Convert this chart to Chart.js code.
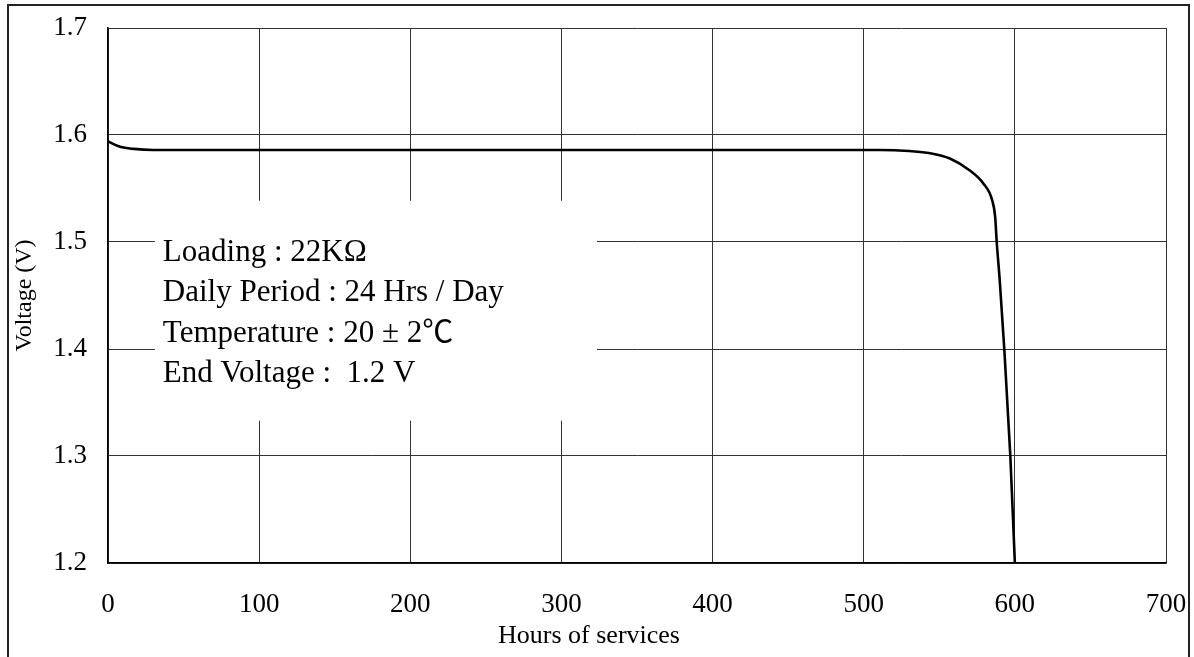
<!DOCTYPE html>
<html>
<head>
<meta charset="utf-8">
<title>Hours of services</title>
<script src="https://cdn.jsdelivr.net/npm/chart.js@4.4.1/dist/chart.umd.min.js"></script>
<style>
  html, body { margin: 0; padding: 0; background: #fff; }
  canvas { display: block; }
</style>
</head>
<body>
<canvas id="dischargeChart" width="1194" height="657"></canvas>
<script>
// Discharge curve
const hours = [0, 8, 17, 30, 100, 200, 300, 400, 500, 511, 530, 544, 557, 570, 579, 585, 587, 588, 590, 593, 597, 600];
const voltage = [1.594, 1.589, 1.587, 1.586, 1.586, 1.586, 1.586, 1.586, 1.586, 1.586, 1.585, 1.583, 1.578, 1.567, 1.555, 1.539, 1.523, 1.5, 1.464, 1.4, 1.3, 1.2];

const xTicks = [0, 100, 200, 300, 400, 500, 600, 700];
const yTicks = [1.2, 1.3, 1.4, 1.5, 1.6, 1.7];

const xTitle = 'Hours of services';
const yTitle = 'Voltage (V)';
const noteLines = [
  'Loading : 22KΩ',
  'Daily Period : 24 Hrs / Day',
  'Temperature : 20 ± 2℃',
  'End Voltage :  1.2 V',
];

const serif = '"Liberation Serif", "Times New Roman", "Noto Sans CJK SC", serif';

// Outer frame, note box and x title
const decorPlugin = {
  id: 'decor',
  beforeDatasetsDraw(chart) {
    const ctx = chart.ctx;
    const x = chart.scales.x;
    const y = chart.scales.y;
    const left = x.getPixelForValue(31);
    const right = x.getPixelForValue(323.5);
    const top = y.getPixelForValue(1.5385);
    const bottom = y.getPixelForValue(1.333);
    ctx.save();
    ctx.fillStyle = '#fff';
    ctx.fillRect(left, top, right - left, bottom - top);
    ctx.fillStyle = '#000';
    ctx.font = '31px ' + serif;
    ctx.textBaseline = 'alphabetic';
    ctx.textAlign = 'left';
    noteLines.forEach((line, i) => {
      ctx.fillText(line, left + 8, top + 60 + i * 40.4);
    });
    ctx.restore();
  },
  afterDraw(chart) {
    const ctx = chart.ctx;
    ctx.save();
    ctx.strokeStyle = '#222';
    ctx.lineWidth = 2;
    ctx.strokeRect(8, 5, 1181, 700);
    ctx.fillStyle = '#000';
    ctx.font = '26px ' + serif;
    ctx.textAlign = 'center';
    ctx.textBaseline = 'alphabetic';
    ctx.fillText(xTitle, 589, 643);
    ctx.restore();
  },
};

const ctx = document.getElementById('dischargeChart').getContext('2d');
const chart = new Chart(ctx, {
  type: 'line',
  data: {
    datasets: [
      {
        data: hours.map((h, i) => ({ x: h, y: voltage[i] })),
        borderColor: '#000',
        borderWidth: 2.6,
        pointRadius: 0,
        cubicInterpolationMode: 'monotone',
        fill: false,
      },
    ],
  },
  options: {
    responsive: false,
    animation: false,
    devicePixelRatio: 1,
    layout: {
      padding: { top: 28, right: 28, left: 0, bottom: 0 },
    },
    plugins: {
      legend: { display: false },
      tooltip: { enabled: false },
    },
    scales: {
      x: {
        type: 'linear',
        min: 0,
        max: 700,
        afterFit: (scale) => {
          scale.height = 94;
          scale.paddingLeft = 0;
          scale.paddingRight = 0;
        },
        afterBuildTicks: (scale) => { scale.ticks = xTicks.map((v) => ({ value: v })); },
        ticks: {
          color: '#000',
          padding: 26,
          maxRotation: 0,
          font: { family: serif, size: 27 },
        },
        grid: { color: '#333', lineWidth: 1, drawTicks: false },
        border: { color: '#000', width: 1.5 },
      },
      y: {
        min: 1.2,
        max: 1.7,
        afterFit: (scale) => {
          scale.width = 108;
          scale.paddingTop = 0;
          scale.paddingBottom = 0;
        },
        afterBuildTicks: (scale) => { scale.ticks = yTicks.map((v) => ({ value: v })); },
        ticks: {
          color: '#000',
          padding: 21,
          font: { family: serif, size: 27 },
          callback: (v) => v.toFixed(1),
        },
        grid: { color: '#333', lineWidth: 1, drawTicks: false },
        border: { color: '#000', width: 1.5 },
        title: {
          display: true,
          text: yTitle,
          color: '#000',
          font: { family: serif, size: 24 },
          padding: { top: 10, bottom: 0 },
        },
      },
    },
  },
  plugins: [decorPlugin],
});
</script>
</body>
</html>
